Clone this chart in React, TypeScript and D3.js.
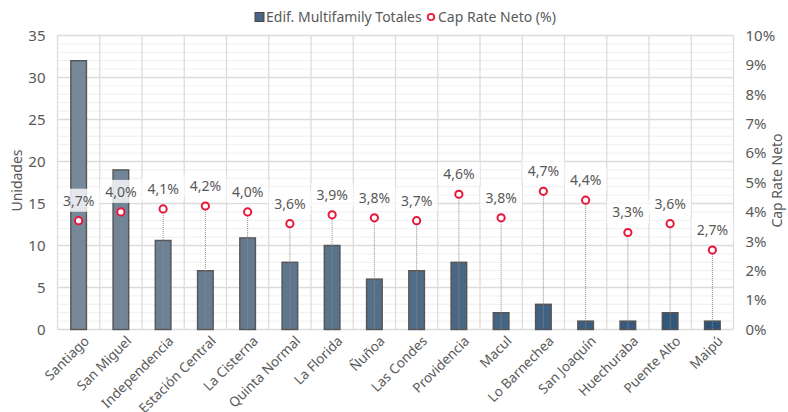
import React, { useEffect, useRef } from 'react';
import * as d3 from 'd3';

const comunas = [
  'Santiago', 'San Miguel', 'Independencia', 'Estación Central', 'La Cisterna',
  'Quinta Normal', 'La Florida', 'Ñuñoa', 'Las Condes', 'Providencia', 'Macul',
  'Lo Barnechea', 'San Joaquín', 'Huechuraba', 'Puente Alto', 'Maipú',
];
const edificios = [32, 19, 10.6, 7, 10.9, 8, 10, 6, 7, 8, 2, 3, 1, 1, 2, 1];
const capRate = [3.7, 4.0, 4.1, 4.2, 4.0, 3.6, 3.9, 3.8, 3.7, 4.6, 3.8, 4.7, 4.4, 3.3, 3.6, 2.7];
const leftTicks = [0, 5, 10, 15, 20, 25, 30, 35];
const rightTicks = [0, 1, 2, 3, 4, 5, 6, 7, 8, 9, 10];

const W = 788;
const H = 412;
const FONT = '"Noto Sans", sans-serif';
const TXT = '#595959';

const App: React.FC = () => {
  const svgRef = useRef<SVGSVGElement>(null);

  useEffect(() => {
    if (!svgRef.current) return;
    const svg = d3.select(svgRef.current);
    svg.selectAll('*').remove();

    const margin = { top: 35.5, right: 54.5, bottom: 82.5, left: 57.5 };
    const innerW = W - margin.left - margin.right;
    const innerH = H - margin.top - margin.bottom;

    const g = svg.append('g').attr('transform', `translate(${margin.left},${margin.top})`);

    const x = d3.scaleBand().domain(comunas).range([0, innerW]);
    const yL = d3.scaleLinear().domain([0, 35]).range([innerH, 0]);
    const yR = d3.scaleLinear().domain([0, 10]).range([innerH, 0]);
    const barColor = d3.scaleLinear<string>()
      .domain([0, comunas.length - 1])
      .range(['#778899', '#2c5379'])
      .interpolate(d3.interpolateRgb);

    // minor grid
    g.append('g')
      .selectAll('line')
      .data(d3.range(0, 36).filter((v) => v % 5 !== 0))
      .join('line')
      .attr('x1', 0).attr('x2', innerW)
      .attr('y1', (d) => yL(d)).attr('y2', (d) => yL(d))
      .attr('stroke', '#efefef').attr('stroke-width', 1);

    // major grid
    g.append('g')
      .selectAll('line')
      .data(leftTicks)
      .join('line')
      .attr('x1', 0).attr('x2', innerW)
      .attr('y1', (d) => yL(d)).attr('y2', (d) => yL(d))
      .attr('stroke', '#dcdcdc').attr('stroke-width', 1.3);

    g.append('g')
      .selectAll('line')
      .data(d3.range(comunas.length + 1))
      .join('line')
      .attr('x1', (i) => i * x.bandwidth()).attr('x2', (i) => i * x.bandwidth())
      .attr('y1', 0).attr('y2', innerH)
      .attr('stroke', '#dcdcdc').attr('stroke-width', 1.3);

    // bars
    const bw = x.bandwidth() * 0.37;
    g.append('g')
      .selectAll('rect')
      .data(comunas)
      .join('rect')
      .attr('x', (d) => (x(d) || 0) + x.bandwidth() / 2 - bw / 2)
      .attr('y', (_, i) => yL(edificios[i]))
      .attr('width', bw)
      .attr('height', (_, i) => innerH - yL(edificios[i]))
      .attr('fill', (_, i) => barColor(i))
      .attr('stroke', '#555')
      .attr('stroke-width', 1.4);

    // drop lines
    g.append('g')
      .selectAll('line')
      .data(comunas)
      .join('line')
      .attr('x1', (d) => (x(d) || 0) + x.bandwidth() / 2)
      .attr('x2', (d) => (x(d) || 0) + x.bandwidth() / 2)
      .attr('y1', (_, i) => yR(capRate[i]) + 4)
      .attr('y2', innerH)
      .attr('stroke', '#8a8a8a')
      .attr('stroke-width', 1)
      .attr('stroke-dasharray', '1,1');

    // labels
    const lab = g.append('g')
      .selectAll('g')
      .data(comunas)
      .join('g')
      .attr('transform', (d, i) => `translate(${(x(d) || 0) + x.bandwidth() / 2},${yR(capRate[i]) - 20})`);
    lab.append('rect')
      .attr('x', -21).attr('y', -12).attr('width', 42).attr('height', 23)
      .attr('fill', '#fff').attr('fill-opacity', 0.8);
    lab.append('text')
      .attr('text-anchor', 'middle')
      .attr('dy', '0.35em')
      .attr('fill', TXT)
      .attr('font-size', 14)
      .attr('font-family', FONT)
      .text((_, i) => capRate[i].toFixed(1).replace('.', ',') + '%');

    // markers
    g.append('g')
      .selectAll('circle')
      .data(comunas)
      .join('circle')
      .attr('cx', (d) => (x(d) || 0) + x.bandwidth() / 2)
      .attr('cy', (_, i) => yR(capRate[i]))
      .attr('r', 3.6)
      .attr('fill', '#fff')
      .attr('stroke', '#e8173a')
      .attr('stroke-width', 2);

    // left axis
    g.append('g')
      .selectAll('text')
      .data(leftTicks)
      .join('text')
      .attr('x', -12).attr('y', (d) => yL(d)).attr('dy', '0.35em')
      .attr('text-anchor', 'end')
      .attr('fill', TXT).attr('font-size', 15).attr('font-family', FONT)
      .text((d) => d);

    // right axis
    g.append('g')
      .selectAll('text')
      .data(rightTicks)
      .join('text')
      .attr('x', innerW + 12).attr('y', (d) => yR(d)).attr('dy', '0.35em')
      .attr('text-anchor', 'start')
      .attr('fill', TXT).attr('font-size', 15).attr('font-family', FONT)
      .text((d) => `${d}%`);

    // category labels
    g.append('g')
      .selectAll('text')
      .data(comunas)
      .join('text')
      .attr('transform', (d) => `translate(${(x(d) || 0) + x.bandwidth() / 2 + 8},${innerH + 9}) rotate(-45)`)
      .attr('text-anchor', 'end')
      .attr('dy', '0.35em')
      .attr('fill', TXT).attr('font-size', 13.5).attr('font-family', FONT)
      .text((d) => d);

    // axis titles
    svg.append('text')
      .attr('transform', `translate(22,${margin.top + innerH / 2 - 2}) rotate(-90)`)
      .attr('text-anchor', 'middle')
      .attr('fill', TXT).attr('font-size', 14).attr('font-family', FONT)
      .text('Unidades');
    svg.append('text')
      .attr('transform', `translate(782,${margin.top + innerH / 2 - 2}) rotate(-90)`)
      .attr('text-anchor', 'middle')
      .attr('fill', TXT).attr('font-size', 14).attr('font-family', FONT)
      .text('Cap Rate Neto');

    // legend
    const leg = svg.append('g').attr('transform', 'translate(255,17)');
    leg.append('rect')
      .attr('x', 0).attr('y', -4.5).attr('width', 9).attr('height', 9)
      .attr('fill', '#4b6582').attr('stroke', '#444').attr('stroke-width', 1);
    leg.append('text')
      .attr('x', 11).attr('dy', '0.35em')
      .attr('fill', TXT).attr('font-size', 14).attr('font-family', FONT)
      .text('Edif. Multifamily Totales');
    leg.append('circle')
      .attr('cx', 176).attr('cy', 0).attr('r', 3.2)
      .attr('fill', '#fff').attr('stroke', '#e8173a').attr('stroke-width', 1.8);
    leg.append('text')
      .attr('x', 183).attr('dy', '0.35em')
      .attr('fill', TXT).attr('font-size', 14).attr('font-family', FONT)
      .text('Cap Rate Neto (%)');
  }, []);

  return <svg ref={svgRef} width={W} height={H} style={{ display: 'block', position: 'absolute', left: 0, top: 0 }} />;
};

export default App;
